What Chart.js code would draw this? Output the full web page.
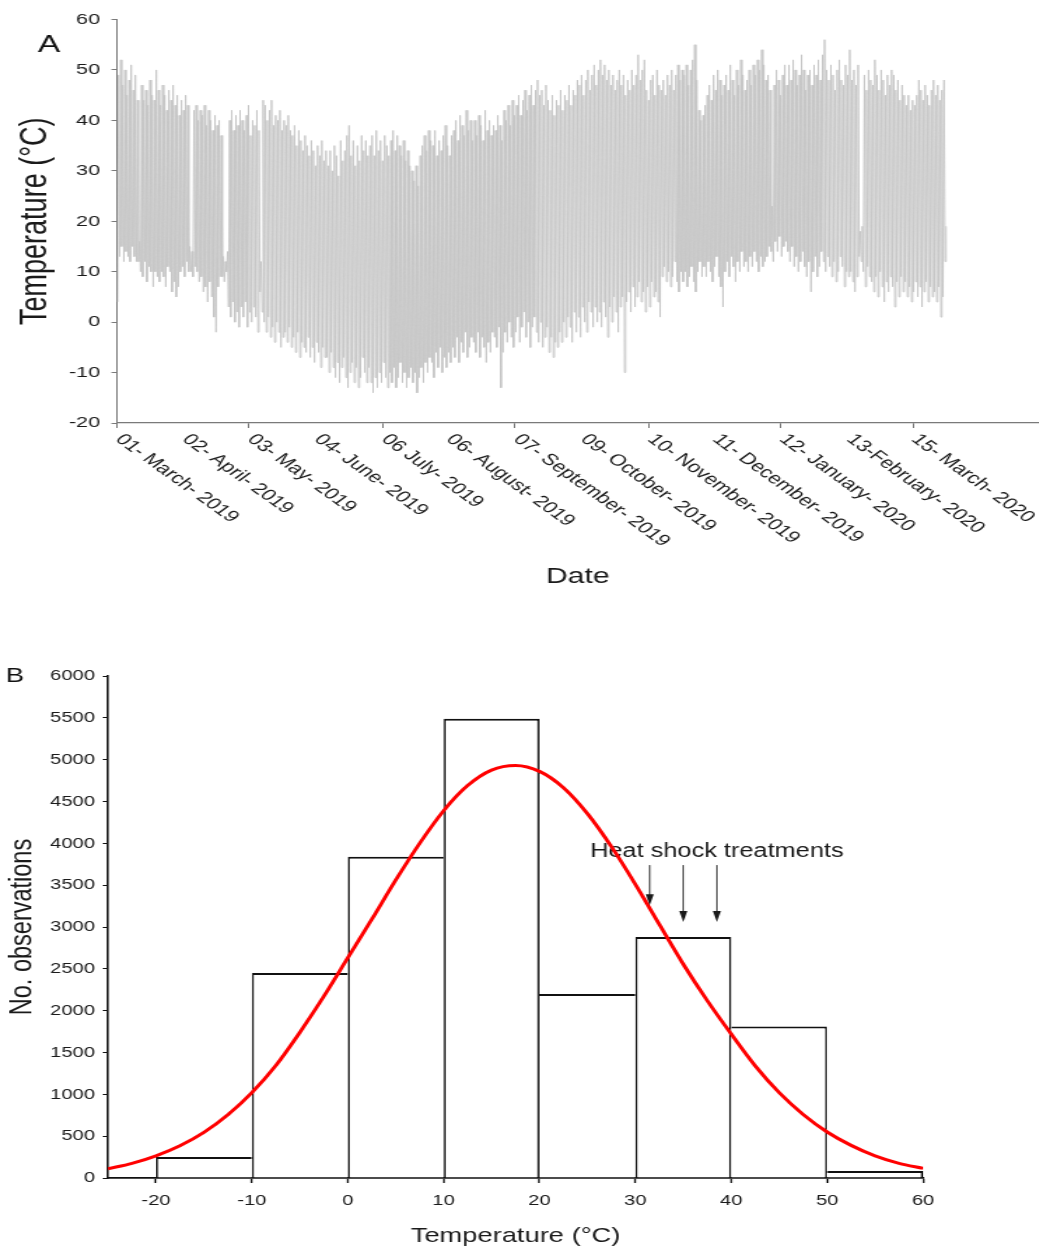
<!DOCTYPE html>
<html>
<head>
<meta charset="utf-8">
<script src="https://cdn.jsdelivr.net/npm/chart.js@4.4.1/dist/chart.umd.min.js"></script>
<style>
    html, body { margin: 0; padding: 0; background: #fff; }
    body { width: 1039px; height: 1250px; position: relative; overflow: hidden; }
    .panel { position: absolute; left: 0; transform-origin: 0 0; }
    #panel-a { top: 0; transform: scaleX(1.4); }
    #panel-b { top: 600px; transform: scaleX(1.3); }
    canvas { display: block; }
</style>
</head>
<body>
<div class="panel" id="panel-a"><canvas id="chart-a" width="742" height="600"></canvas></div>
<div class="panel" id="panel-b"><canvas id="chart-b" width="799" height="650"></canvas></div>
<script>
const FONT = '"Liberation Sans", Arial, sans-serif';
const INK = '#1a1a1a';

// Panel A: daily max / min temperature, day 0 = 01 March 2019
const dailyMax = [
    49, 52, 47, 50, 45, 48, 51, 46, 49, 44,
    16, 47, 44, 46, 43, 48, 45, 44, 50, 46,
    43, 47, 45, 42, 46, 44, 47, 43, 45, 41,
    44, 42, 45, 43, 15, 14, 42, 43, 40, 42,
    41, 43, 39, 42, 40, 38, 41, 39, 40, 37,
    13, 12, 14, 40, 42, 38, 41, 39, 42, 40,
    38, 41, 43, 37, 40, 39, 42, 38, 12, 44,
    43, 40, 42, 44, 39, 41, 40, 42, 38, 40,
    39, 41, 38, 37, 39, 35, 38, 36, 34, 37,
    35, 33, 36, 34, 31, 35, 33, 36, 32, 34,
    31, 34, 30, 35, 33, 29, 36, 32, 34, 37,
    39, 33, 36, 31, 35, 32, 37, 34, 36, 33,
    35, 37, 33, 38, 34, 36, 32, 37, 35, 33,
    36, 38, 34, 37, 35, 33, 36, 32, 34, 31,
    30, 28, 31, 27, 33, 35, 37, 34, 38, 36,
    35, 38, 33, 36, 34, 37, 39, 35, 33, 37,
    38, 40, 36, 41, 39, 37, 42, 38, 40, 36,
    40, 37, 41, 39, 36, 42, 38, 40, 37, 39,
    38, 41, 39, 36, 42, 40, 43, 39, 44, 41,
    43, 45, 41, 44, 46, 42, 45, 47, 43, 46,
    48, 45, 46, 43, 47, 44, 42, 45, 41, 44,
    43, 46, 42, 45, 44, 47, 43, 46, 45, 48,
    47, 49, 45, 48, 50, 46, 49, 51, 47, 50,
    52, 49, 51, 48, 50, 47, 49, 46, 48, 50,
    47, 49, 45, 48, 46, 50, 47, 49, 53, 48,
    50, 52, 46, 44, 48, 49, 45, 50, 47, 46,
    48, 45, 49, 47, 50, 46, 49, 51, 48, 50,
    49, 51, 47, 50, 52, 55, 48, 42, 40, 41,
    43, 45, 47, 44, 49, 46, 50, 48, 45, 47,
    49, 46, 51, 48, 45, 50, 47, 52, 49, 46,
    48, 50, 47, 51, 49, 52, 50, 54, 51, 48,
    49, 46, 23, 47, 50, 48, 45, 49, 51, 47,
    51, 48, 52, 50, 47, 49, 53, 50, 46, 49,
    50, 47, 51, 49, 52, 48, 53, 56, 50, 48,
    51, 49, 46, 50, 52, 48, 47, 51, 49, 54,
    48, 50, 47, 51, 18, 19, 49, 46, 50, 48,
    47, 52, 49, 46, 50, 48, 45, 49, 47, 50,
    49, 46, 48, 44, 47, 45, 43, 45, 42, 44,
    43, 45, 48, 46, 44, 47, 45, 43, 46, 48,
    45, 47, 44, 46, 48, 19,
];
const dailyMin = [
    4, 13, 15, 12, 14, 13, 12, 15, 13, 12,
    12, 10, 9, 12, 8, 11, 10, 7, 10, 9,
    8, 10, 9, 7, 11, 10, 6, 8, 5, 7,
    10, 11, 9, 12, 10, 10, 9, 11, 10, 8,
    9, 6, 7, 4, 8, 5, 1, -2, 7, 9,
    9, 8, 10, 3, 1, 4, 0, 2, -1, 3,
    1, 4, -1, 2, 0, 3, 1, -2, 6, 2,
    0, -2, 1, -3, -1, -4, 0, -2, -5, -3,
    -2, -4, -1, -5, -3, -6, -2, -7, -4, -5,
    -6, -3, -7, -5, -8, -4, -6, -9, -5, -7,
    -7, -10, -6, -9, -11, -8, -12, -9, -7, -11,
    -13, -10, -8, -12, -9, -13, -11, -7, -10, -12,
    -9, -12, -14, -11, -13, -10, -12, -8, -11, -13,
    -10, -12, -9, -13, -11, -8, -12, -10, -13, -11,
    -9, -12, -10, -14, -11, -9, -12, -8, -10, -7,
    -8, -11, -6, -9, -5, -10, -7, -9, -6, -8,
    -5, -7, -3, -8, -4, -6, -2, -7, -5, -3,
    -4, -6, -2, -7, -3, -5, -8, -4, -6, -2,
    -3, -5, -1, -13, -6, -2, -4, 0, -3, -5,
    -2, 1, -4, -1, 2, -3, 0, -5, -1, 1,
    -2, -4, 0, -5, -3, -1, -6, -3, -7, -4,
    -5, -2, -4, 0, -3, 1, -1, -4, 2, -2,
    1, -3, 3, 0, -2, 4, 2, -1, 3, 0,
    2, -1, 4, 1, -3, 3, 0, 5, 2, -2,
    3, 5, -10, 4, 6, 2, 7, 3, 5, 8,
    4, 6, 2, 7, 3, 8, 5, 6, 4, 1,
    9, 11, 8, 10, 7, 9, 12, 8, 6, 10,
    8, 10, 7, 9, 11, 8, 6, 10, 12, 9,
    11, 9, 12, 10, 8, 11, 13, 9, 7, 3,
    10, 12, 9, 13, 11, 8, 12, 10, 14, 11,
    12, 10, 13, 11, 14, 12, 10, 13, 11, 12,
    13, 15, 14, 12, 16, 14, 17, 13, 15, 16,
    14, 12, 15, 11, 13, 10, 12, 14, 11, 9,
    12, 6, 10, 13, 9, 11, 14, 12, 10, 13,
    11, 9, 12, 8, 10, 13, 11, 7, 10, 9,
    10, 8, 6, 9, 13, 12, 10, 7, 11, 9,
    8, 6, 9, 5, 10, 7, 4, 8, 6, 9,
    7, 3, 8, 5, 9, 6, 8, 5, 7, 4,
    6, 8, 5, 7, 3, 6, 8, 4, 7, 5,
    6, 4, 7, 1, 5, 12,
];
const dateTickDays = [0, 32, 63, 95, 127, 158, 190, 222, 254, 285, 317, 349, 380];
const dateTickLabels = [
    '01- March- 2019', '02- April- 2019', '03- May- 2019', '04- June- 2019',
    '06 July- 2019', '06- August- 2019', '07- September- 2019', '09- October- 2019',
    '10- November- 2019', '11- December- 2019', '12- January- 2020', '13-February- 2020',
    '15- March- 2020',
];
const tempTicks = [-20, -10, 0, 10, 20, 30, 40, 50, 60];

// Panel B: histogram of all readings with the fitted curve
const binStart = [-20, -10, 0, 10, 20, 30, 40, 50];
const binCounts = [250, 2450, 3840, 5490, 2200, 2880, 1810, 85];
const fitTemps = [-25, -22.5, -20, -17.5, -15, -12.5, -10, -7.5, -5, -2.5, 0, 2.5, 5, 7.5, 10, 12.5, 15, 17.5,
    20, 22.5, 25, 27.5, 30, 32.5, 35, 37.5, 40, 42.5, 45, 47.5, 50, 52.5, 55, 57.5, 60];
const fitCounts = [110, 175, 265, 385, 545, 755, 1020, 1345, 1740, 2170, 2630, 3090, 3560, 4000, 4390, 4690, 4875, 4930,
    4860, 4665, 4355, 3960, 3510, 3030, 2555, 2120, 1720, 1340, 1020, 760, 550, 390, 265, 175, 115];
const histTicks = [-20, -10, 0, 10, 20, 30, 40, 50, 60];
const countTicks = [0, 500, 1000, 1500, 2000, 2500, 3000, 3500, 4000, 4500, 5000, 5500, 6000];
const treatmentTemps = [31.5, 35, 38.5];
const treatmentTips = [3260, 3060, 3060];
const treatmentTop = 3740;
const noteTemp = 38.5;
const noteCount = 3900;

// one stroke up and down per day gives the dense diurnal trace
const tracePoints = [];
dailyMax.forEach((high, day) => {
    tracePoints.push({ x: day + 0.25, y: dailyMin[day] });
    tracePoints.push({ x: day + 0.75, y: high });
});

const panelLetter = (ctx, text, x, y, size) => {
    ctx.save();
    ctx.fillStyle = '#111';
    ctx.font = `${size}px ${FONT}`;
    ctx.textAlign = 'center';
    ctx.textBaseline = 'middle';
    ctx.fillText(text, x, y);
    ctx.restore();
};

const dateLabels = {
    id: 'dateLabels',
    afterDraw(chart) {
        const { ctx, chartArea } = chart;
        const xScale = chart.scales.x;
        ctx.save();
        ctx.fillStyle = INK;
        ctx.font = `16px ${FONT}`;
        ctx.textAlign = 'left';
        ctx.textBaseline = 'middle';
        dateTickLabels.forEach((label, i) => {
            ctx.save();
            ctx.translate(xScale.getPixelForValue(dateTickDays[i]) + 1.2, chartArea.bottom + 14);
            ctx.rotate(Math.PI / 4);
            ctx.fillText(label, 0, 0);
            ctx.restore();
        });
        ctx.restore();
        panelLetter(ctx, 'A', 35, 45, 24);
    },
};

const treatments = {
    id: 'treatments',
    beforeDatasetsDraw(chart) {
        const { ctx } = chart;
        const { x, y } = chart.scales;
        ctx.save();
        ctx.fillStyle = INK;
        ctx.font = `19.5px ${FONT}`;
        ctx.textAlign = 'center';
        ctx.textBaseline = 'middle';
        ctx.fillText('Heat shock treatments', x.getPixelForValue(noteTemp), y.getPixelForValue(noteCount));
        ctx.restore();
    },
    afterDatasetsDraw(chart) {
        const { ctx } = chart;
        const { x, y } = chart.scales;
        ctx.save();
        ctx.strokeStyle = INK;
        ctx.fillStyle = INK;
        ctx.lineWidth = 0.9;
        treatmentTemps.forEach((temp, i) => {
            const px = x.getPixelForValue(temp);
            const top = y.getPixelForValue(treatmentTop);
            const tip = y.getPixelForValue(treatmentTips[i]);
            ctx.beginPath();
            ctx.moveTo(px, top);
            ctx.lineTo(px, tip - 8);
            ctx.stroke();
            ctx.beginPath();
            ctx.moveTo(px - 3.1, tip - 11);
            ctx.lineTo(px + 3.1, tip - 11);
            ctx.lineTo(px, tip);
            ctx.closePath();
            ctx.fill();
        });
        ctx.restore();
    },
    afterDraw(chart) {
        panelLetter(chart.ctx, 'B', 11.5, 76, 21);
    },
};

new Chart(document.getElementById('chart-a'), {
    type: 'line',
    data: {
        datasets: [{
            data: tracePoints,
            borderColor: '#c6c6c6',
            borderWidth: 0.9,
            pointRadius: 0,
            tension: 0,
            fill: false,
        }],
    },
    options: {
        responsive: false,
        animation: false,
        events: [],
        layout: { padding: { top: 19.5, right: 0, bottom: 0, left: 0 } },
        plugins: { legend: { display: false }, tooltip: { enabled: false } },
        scales: {
            x: {
                type: 'linear',
                min: 0,
                max: 440,
                afterBuildTicks: scale => { scale.ticks = dateTickDays.map(value => ({ value })); },
                afterFit: scale => { scale.height = 177; },
                ticks: { display: false },
                grid: {
                    drawOnChartArea: false,
                    tickLength: 5,
                    tickWidth: 1,
                    tickColor: context => (context.index % 2 === 0 ? '#7a7a7a' : 'rgba(0,0,0,0)'),
                },
                border: { color: '#7a7a7a', width: 1.3 },
                title: {
                    display: true,
                    text: 'Date',
                    color: INK,
                    font: { family: FONT, size: 21.5 },
                    padding: { top: 0, bottom: 10.4 },
                },
            },
            y: {
                min: -20,
                max: 60,
                afterBuildTicks: scale => { scale.ticks = tempTicks.map(value => ({ value })); },
                afterFit: scale => { scale.width = 83.6; },
                ticks: { color: INK, font: { family: FONT, size: 15.5 }, padding: 8, callback: value => String(value) },
                grid: { drawOnChartArea: false, tickLength: 4, tickColor: '#7a7a7a' },
                border: { color: '#7a7a7a', width: 1 },
                title: {
                    display: true,
                    text: 'Temperature (°C)',
                    color: INK,
                    font: { family: FONT, size: 27 },
                    padding: { top: 9.5, bottom: 0 },
                },
            },
        },
    },
    plugins: [dateLabels],
});

new Chart(document.getElementById('chart-b'), {
    type: 'bar',
    data: {
        datasets: [
            {
                type: 'line',
                data: fitTemps.map((temp, i) => ({ x: temp, y: fitCounts[i] })),
                borderColor: '#ff0000',
                borderWidth: 3,
                pointRadius: 0,
                cubicInterpolationMode: 'monotone',
                fill: false,
                order: 0,
            },
            {
                type: 'bar',
                data: binStart.map((temp, i) => ({ x: temp + 5, y: binCounts[i] })),
                backgroundColor: '#ffffff',
                borderColor: '#111111',
                // each shared edge is drawn once, by the taller neighbour
                borderWidth: context => {
                    const i = context.dataIndex;
                    if (i === undefined) {
                        return 1.7;
                    }
                    const prev = i > 0 ? binCounts[i - 1] : -1;
                    const next = i < binCounts.length - 1 ? binCounts[i + 1] : -1;
                    return {
                        top: 2,
                        bottom: 0,
                        left: binCounts[i] >= prev ? 1.7 : 0,
                        right: binCounts[i] > next ? 1.7 : 0,
                    };
                },
                borderSkipped: 'start',
                inflateAmount: 0,
                barPercentage: 1,
                categoryPercentage: 1,
                order: 1,
            },
        ],
    },
    options: {
        responsive: false,
        animation: false,
        events: [],
        layout: { padding: { top: 76, right: 89, bottom: 0, left: 0 } },
        plugins: { legend: { display: false }, tooltip: { enabled: false } },
        scales: {
            x: {
                type: 'linear',
                min: -25,
                max: 60,
                offset: false,
                afterBuildTicks: scale => { scale.ticks = histTicks.map(value => ({ value })); },
                afterFit: scale => { scale.height = 72; },
                ticks: { color: INK, font: { family: FONT, size: 15.5 }, padding: 8, maxRotation: 0, callback: value => String(value) },
                grid: { drawOnChartArea: false, offset: false, tickLength: 5, tickColor: '#111', tickWidth: 1.4 },
                border: { color: '#111', width: 1.8 },
                title: {
                    display: true,
                    text: 'Temperature (°C)',
                    color: INK,
                    font: { family: FONT, size: 21 },
                    padding: { top: 0, bottom: 1.4 },
                },
            },
            y: {
                type: 'linear',
                min: 0,
                max: 6000,
                afterBuildTicks: scale => { scale.ticks = countTicks.map(value => ({ value })); },
                afterFit: scale => { scale.width = 83.1; },
                ticks: { color: INK, font: { family: FONT, size: 15.5 }, padding: 6, callback: value => String(value) },
                grid: { drawOnChartArea: false, tickLength: 4, tickColor: '#111' },
                border: { color: '#111', width: 1.6 },
                title: {
                    display: true,
                    text: 'No. observations',
                    color: INK,
                    font: { family: FONT, size: 23.5 },
                    padding: { top: 3, bottom: 0 },
                },
            },
        },
    },
    plugins: [treatments],
});
</script>
</body>
</html>
